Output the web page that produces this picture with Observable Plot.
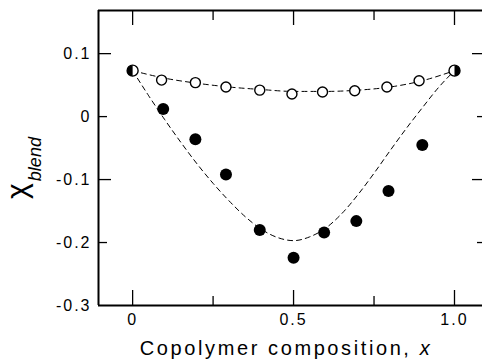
<!DOCTYPE html>
<html><head><meta charset="utf-8">
<script src="https://cdn.jsdelivr.net/npm/d3@7"></script>
<script src="https://cdn.jsdelivr.net/npm/@observablehq/plot@0.6"></script>
<style>
body{margin:0;background:#fff}
svg text{font-family:"Liberation Sans",Arial,sans-serif}
</style>
</head><body><div id="chart"></div>
<script>
// Axis ticks and labels
const xTicks = [0, 0.5, 1.0];
const xTickLabels = ["0", "0.5", "1.0"];
const xMinorTicks = [0.25, 0.75];
const yTicks = [0.1, 0, -0.1, -0.2, -0.3];
const yTickLabels = ["0.1", "0", "-0.1", "-0.2", "-0.3"];
const yMajorTicks = [0.1, -0.1];
const yMinorTicks = [0, -0.2];
const xDomain = [-0.106, 1.087];
const yDomain = [-0.3, 0.1685];

// Open circles (upper series)
const compOpen = [0.09, 0.195, 0.29, 0.395, 0.495, 0.59, 0.69, 0.79, 0.89];
const chiOpen = [0.058, 0.054, 0.047, 0.042, 0.036, 0.039, 0.041, 0.047, 0.057];
// Filled circles (lower series)
const compFilled = [0.095, 0.195, 0.29, 0.395, 0.5, 0.595, 0.695, 0.795, 0.9];
const chiFilled = [0.012, -0.036, -0.092, -0.18, -0.224, -0.184, -0.166, -0.118, -0.045];
// Shared end points (half-filled)
const compEnds = [0, 1.0];
const chiEnds = [0.073, 0.073];
const endHalf = ["left", "right"];

// Dashed curves
const compUpperCurve = [0, 0.1, 0.2, 0.3, 0.4, 0.5, 0.6, 0.7, 0.8, 0.9, 1.0];
const chiUpperCurve = [0.073, 0.061, 0.053, 0.047, 0.043, 0.040, 0.040, 0.042, 0.047, 0.057, 0.073];
const compLowerCurve = [0, 0.05, 0.1, 0.15, 0.2, 0.25, 0.3, 0.35, 0.4, 0.45, 0.5, 0.55, 0.6, 0.65, 0.7, 0.75, 0.8, 0.85, 0.9, 0.95, 1.0];
const chiLowerCurve = [0.073, 0.033, -0.005, -0.041, -0.075, -0.106, -0.134, -0.159, -0.179, -0.192, -0.197, -0.191, -0.177, -0.154, -0.124, -0.090, -0.054, -0.019, 0.014, 0.046, 0.073];

const openPts = compOpen.map((x, i) => ({x, y: chiOpen[i]}));
const filledPts = compFilled.map((x, i) => ({x, y: chiFilled[i]}));
const endPts = compEnds.map((x, i) => ({x, y: chiEnds[i], half: endHalf[i]}));
const upper = compUpperCurve.map((x, i) => ({x, y: chiUpperCurve[i]}));
const lower = compLowerCurve.map((x, i) => ({x, y: chiLowerCurve[i]}));

const W = 482, H = 362, mL = 98, mR = 0, mT = 10, mB = 57;
const pw = W - mL - mR, ph = H - mT - mB;

function halfDisc(side) {
  return {
    draw(ctx, size) {
      const r = Math.sqrt(size / Math.PI);
      ctx.moveTo(0, -r);
      ctx.arc(0, 0, r, -Math.PI / 2, Math.PI / 2, side === "left");
      ctx.closePath();
    }
  };
}

const chart = Plot.plot({
  width: W, height: H,
  marginLeft: mL, marginRight: mR, marginTop: mT, marginBottom: mB,
  x: {domain: xDomain, axis: null},
  y: {domain: yDomain, axis: null},
  style: {background: "white", color: "black", overflow: "visible"},
  marks: [
    // frame
    Plot.ruleX([xDomain[0]], {stroke: "black", strokeWidth: 2}),
    Plot.ruleY([yDomain[0]], {stroke: "black", strokeWidth: 2}),
    Plot.ruleY([yDomain[1]], {stroke: "black", strokeWidth: 2}),
    // inward ticks, bottom
    Plot.tickX(xTicks, {x: d => d, insetTop: ph - 15, stroke: "black", strokeWidth: 1.3}),
    Plot.tickX(xMinorTicks, {x: d => d, insetTop: ph - 9, stroke: "black", strokeWidth: 1.3}),
    // top
    Plot.tickX(xTicks, {x: d => d, insetBottom: ph - 15, stroke: "black", strokeWidth: 1.3}),
    Plot.tickX(xMinorTicks, {x: d => d, insetBottom: ph - 10, stroke: "black", strokeWidth: 1.3}),
    // left
    Plot.tickY(yMajorTicks, {y: d => d, insetRight: pw - 13, stroke: "black", strokeWidth: 1.3}),
    Plot.tickY(yMinorTicks, {y: d => d, insetRight: pw - 9, stroke: "black", strokeWidth: 1.3}),
    // right
    Plot.tickY(yMajorTicks, {y: d => d, insetLeft: pw - 10, stroke: "black", strokeWidth: 1.3}),
    Plot.tickY(yMinorTicks, {y: d => d, insetLeft: pw - 5, stroke: "black", strokeWidth: 1.3}),
    // tick labels
    Plot.axisX(xTicks, {anchor: "bottom", tickSize: 0, tickPadding: 8, tickFormat: (d, i) => xTickLabels[i], fontSize: 16, label: null}),
    Plot.axisY(yTicks, {anchor: "left", tickSize: 0, tickPadding: 7, tickFormat: (d, i) => yTickLabels[i], fontSize: 16, label: null}),
    // dashed curves
    Plot.line(upper, {x: "x", y: "y", curve: "monotone-x", stroke: "black", strokeWidth: 1, strokeDasharray: "5,4"}),
    Plot.line(lower, {x: "x", y: "y", curve: "monotone-x", stroke: "black", strokeWidth: 1, strokeDasharray: "5,4"}),
    // points
    Plot.dot(openPts, {x: "x", y: "y", r: 5, fill: "white", stroke: "black", strokeWidth: 1.4}),
    Plot.dot(filledPts, {x: "x", y: "y", r: 6, fill: "black", stroke: "none"}),
    Plot.dot(endPts, {x: "x", y: "y", r: 5.5, fill: "white", stroke: "black", strokeWidth: 1.4}),
    Plot.dot(endPts.filter(d => d.half === "left"), {x: "x", y: "y", r: 5.5, symbol: halfDisc("left"), fill: "black", stroke: "none"}),
    Plot.dot(endPts.filter(d => d.half === "right"), {x: "x", y: "y", r: 5.5, symbol: halfDisc("right"), fill: "black", stroke: "none"})
  ]
});

const svg = d3.select(chart);
svg.selectAll("[aria-label='x-axis tick label'] text, [aria-label='y-axis tick label'] text").style("letter-spacing", "2px");
// x axis title
const xt = svg.append("text")
  .attr("x", mL + (0.5 - xDomain[0]) / (xDomain[1] - xDomain[0]) * pw - 7)
  .attr("y", 355)
  .attr("text-anchor", "middle")
  .attr("font-size", 20)
  .attr("letter-spacing", "2.6px")
  .attr("fill", "black");
xt.append("tspan").text("Copolymer composition, ");
xt.append("tspan").attr("font-style", "italic").text("x");
// y axis title
const yt = svg.append("text")
  .attr("transform", "translate(27,168) rotate(-90)")
  .attr("fill", "black");
yt.append("tspan").attr("font-size", 30).text("χ");
yt.append("tspan").attr("font-size", 18).attr("font-style", "italic").attr("dy", 14).attr("dx", 2).text("blend");

document.getElementById("chart").appendChild(chart);
</script>
</body></html>
